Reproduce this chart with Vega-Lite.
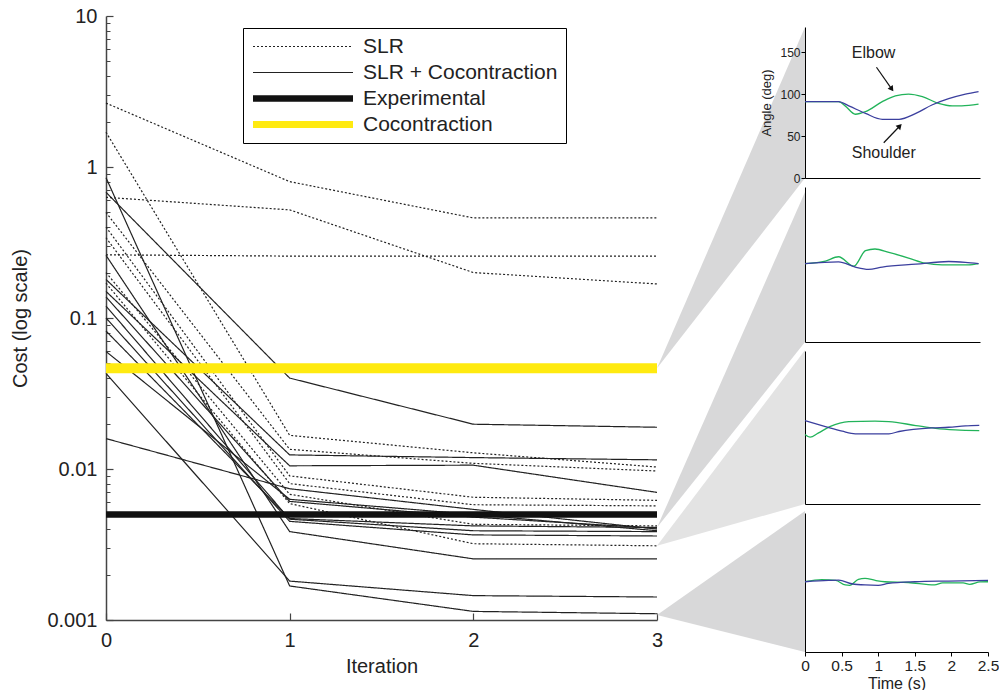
{
  "$schema": "https://vega.github.io/schema/vega-lite/v6.json",
  "background": "white",
  "padding": {"left": 10, "top": 6, "right": 0, "bottom": 0},
  "config": {
    "font": "Liberation Sans",
    "view": {"stroke": null},
    "axis": {"grid": false, "labelColor": "#222", "titleColor": "#222", "titleFontWeight": "normal"}
  },
  "datasets": {
    "wedges": [
      {"w": 1, "iter": 3, "cost": 0.0465, "cost2": 0.0465},
      {"w": 1, "iter": 3.806, "cost": 8.455, "cost2": 0.8457},
      {"w": 2, "iter": 3, "cost": 0.0041, "cost2": 0.0041},
      {"w": 2, "iter": 3.806, "cost": 0.683, "cost2": 0.0693},
      {"w": 3, "iter": 3, "cost": 0.0031, "cost2": 0.0031},
      {"w": 3, "iter": 3.806, "cost": 0.0614, "cost2": 0.00586},
      {"w": 4, "iter": 3, "cost": 0.00108, "cost2": 0.00108},
      {"w": 4, "iter": 3.806, "cost": 0.00527, "cost2": 0.000614}
    ],
    "costs": [
      {"id": "D1", "method": "SLR", "iter": 0, "cost": 2.65},
      {"id": "D1", "method": "SLR", "iter": 1, "cost": 0.80},
      {"id": "D1", "method": "SLR", "iter": 2, "cost": 0.46},
      {"id": "D1", "method": "SLR", "iter": 3, "cost": 0.46},
      {"id": "D2", "method": "SLR", "iter": 0, "cost": 0.63},
      {"id": "D2", "method": "SLR", "iter": 1, "cost": 0.52},
      {"id": "D2", "method": "SLR", "iter": 2, "cost": 0.20},
      {"id": "D2", "method": "SLR", "iter": 3, "cost": 0.168},
      {"id": "D3", "method": "SLR", "iter": 0, "cost": 0.262},
      {"id": "D3", "method": "SLR", "iter": 1, "cost": 0.257},
      {"id": "D3", "method": "SLR", "iter": 2, "cost": 0.257},
      {"id": "D3", "method": "SLR", "iter": 3, "cost": 0.257},
      {"id": "D4", "method": "SLR", "iter": 0, "cost": 1.7},
      {"id": "D4", "method": "SLR", "iter": 1, "cost": 0.0167},
      {"id": "D4", "method": "SLR", "iter": 2, "cost": 0.0128},
      {"id": "D4", "method": "SLR", "iter": 3, "cost": 0.0103},
      {"id": "D5", "method": "SLR", "iter": 0, "cost": 0.50},
      {"id": "D5", "method": "SLR", "iter": 1, "cost": 0.0135},
      {"id": "D5", "method": "SLR", "iter": 2, "cost": 0.0109},
      {"id": "D5", "method": "SLR", "iter": 3, "cost": 0.0097},
      {"id": "D6", "method": "SLR", "iter": 0, "cost": 0.40},
      {"id": "D6", "method": "SLR", "iter": 1, "cost": 0.0090},
      {"id": "D6", "method": "SLR", "iter": 2, "cost": 0.0065},
      {"id": "D6", "method": "SLR", "iter": 3, "cost": 0.0062},
      {"id": "D7", "method": "SLR", "iter": 0, "cost": 0.34},
      {"id": "D7", "method": "SLR", "iter": 1, "cost": 0.0080},
      {"id": "D7", "method": "SLR", "iter": 2, "cost": 0.0058},
      {"id": "D7", "method": "SLR", "iter": 3, "cost": 0.0057},
      {"id": "D8", "method": "SLR", "iter": 0, "cost": 0.20},
      {"id": "D8", "method": "SLR", "iter": 1, "cost": 0.0068},
      {"id": "D8", "method": "SLR", "iter": 2, "cost": 0.0043},
      {"id": "D8", "method": "SLR", "iter": 3, "cost": 0.0042},
      {"id": "D9", "method": "SLR", "iter": 0, "cost": 0.17},
      {"id": "D9", "method": "SLR", "iter": 1, "cost": 0.0059},
      {"id": "D9", "method": "SLR", "iter": 2, "cost": 0.0032},
      {"id": "D9", "method": "SLR", "iter": 3, "cost": 0.0031},
      {"id": "S1", "method": "SLR + Cocontraction", "iter": 0, "cost": 0.68},
      {"id": "S1", "method": "SLR + Cocontraction", "iter": 1, "cost": 0.040},
      {"id": "S1", "method": "SLR + Cocontraction", "iter": 2, "cost": 0.0198},
      {"id": "S1", "method": "SLR + Cocontraction", "iter": 3, "cost": 0.0189},
      {"id": "S2", "method": "SLR + Cocontraction", "iter": 0, "cost": 0.85},
      {"id": "S2", "method": "SLR + Cocontraction", "iter": 1, "cost": 0.00168},
      {"id": "S2", "method": "SLR + Cocontraction", "iter": 2, "cost": 0.00114},
      {"id": "S2", "method": "SLR + Cocontraction", "iter": 3, "cost": 0.00110},
      {"id": "S3", "method": "SLR + Cocontraction", "iter": 0, "cost": 0.26},
      {"id": "S3", "method": "SLR + Cocontraction", "iter": 1, "cost": 0.00385},
      {"id": "S3", "method": "SLR + Cocontraction", "iter": 2, "cost": 0.00254},
      {"id": "S3", "method": "SLR + Cocontraction", "iter": 3, "cost": 0.00254},
      {"id": "S4", "method": "SLR + Cocontraction", "iter": 0, "cost": 0.043},
      {"id": "S4", "method": "SLR + Cocontraction", "iter": 1, "cost": 0.00181},
      {"id": "S4", "method": "SLR + Cocontraction", "iter": 2, "cost": 0.00145},
      {"id": "S4", "method": "SLR + Cocontraction", "iter": 3, "cost": 0.00142},
      {"id": "S5", "method": "SLR + Cocontraction", "iter": 0, "cost": 0.18},
      {"id": "S5", "method": "SLR + Cocontraction", "iter": 1, "cost": 0.0124},
      {"id": "S5", "method": "SLR + Cocontraction", "iter": 2, "cost": 0.0119},
      {"id": "S5", "method": "SLR + Cocontraction", "iter": 3, "cost": 0.0115},
      {"id": "S6", "method": "SLR + Cocontraction", "iter": 0, "cost": 0.15},
      {"id": "S6", "method": "SLR + Cocontraction", "iter": 1, "cost": 0.0105},
      {"id": "S6", "method": "SLR + Cocontraction", "iter": 2, "cost": 0.0106},
      {"id": "S6", "method": "SLR + Cocontraction", "iter": 3, "cost": 0.0070},
      {"id": "S7", "method": "SLR + Cocontraction", "iter": 0, "cost": 0.0159},
      {"id": "S7", "method": "SLR + Cocontraction", "iter": 1, "cost": 0.0074},
      {"id": "S7", "method": "SLR + Cocontraction", "iter": 2, "cost": 0.0054},
      {"id": "S7", "method": "SLR + Cocontraction", "iter": 3, "cost": 0.0040},
      {"id": "S8", "method": "SLR + Cocontraction", "iter": 0, "cost": 0.06},
      {"id": "S8", "method": "SLR + Cocontraction", "iter": 1, "cost": 0.0063},
      {"id": "S8", "method": "SLR + Cocontraction", "iter": 2, "cost": 0.0050},
      {"id": "S8", "method": "SLR + Cocontraction", "iter": 3, "cost": 0.0039},
      {"id": "S9", "method": "SLR + Cocontraction", "iter": 0, "cost": 0.138},
      {"id": "S9", "method": "SLR + Cocontraction", "iter": 1, "cost": 0.0061},
      {"id": "S9", "method": "SLR + Cocontraction", "iter": 2, "cost": 0.0048},
      {"id": "S9", "method": "SLR + Cocontraction", "iter": 3, "cost": 0.00405},
      {"id": "S10", "method": "SLR + Cocontraction", "iter": 0, "cost": 0.12},
      {"id": "S10", "method": "SLR + Cocontraction", "iter": 1, "cost": 0.00465},
      {"id": "S10", "method": "SLR + Cocontraction", "iter": 2, "cost": 0.0039},
      {"id": "S10", "method": "SLR + Cocontraction", "iter": 3, "cost": 0.00385},
      {"id": "S11", "method": "SLR + Cocontraction", "iter": 0, "cost": 0.10},
      {"id": "S11", "method": "SLR + Cocontraction", "iter": 1, "cost": 0.0045},
      {"id": "S11", "method": "SLR + Cocontraction", "iter": 2, "cost": 0.00366},
      {"id": "S11", "method": "SLR + Cocontraction", "iter": 3, "cost": 0.0036},
      {"id": "S12", "method": "SLR + Cocontraction", "iter": 0, "cost": 0.082},
      {"id": "S12", "method": "SLR + Cocontraction", "iter": 1, "cost": 0.0047},
      {"id": "S12", "method": "SLR + Cocontraction", "iter": 2, "cost": 0.0042},
      {"id": "S12", "method": "SLR + Cocontraction", "iter": 3, "cost": 0.0041},
      {"id": "C", "method": "Cocontraction", "iter": 0, "cost": 0.0465},
      {"id": "C", "method": "Cocontraction", "iter": 3, "cost": 0.0465},
      {"id": "E", "method": "Experimental", "iter": 0, "cost": 0.005},
      {"id": "E", "method": "Experimental", "iter": 3, "cost": 0.005}
    ],
    "p1": [
      {"joint": "Elbow", "t": 0, "angle": 91}, {"joint": "Elbow", "t": 0.46, "angle": 91},
      {"joint": "Elbow", "t": 0.55, "angle": 86}, {"joint": "Elbow", "t": 0.69, "angle": 76},
      {"joint": "Elbow", "t": 0.83, "angle": 79}, {"joint": "Elbow", "t": 1.06, "angle": 91},
      {"joint": "Elbow", "t": 1.24, "angle": 98}, {"joint": "Elbow", "t": 1.42, "angle": 100},
      {"joint": "Elbow", "t": 1.61, "angle": 97}, {"joint": "Elbow", "t": 1.83, "angle": 89},
      {"joint": "Elbow", "t": 2.02, "angle": 86}, {"joint": "Elbow", "t": 2.15, "angle": 86},
      {"joint": "Elbow", "t": 2.38, "angle": 88},
      {"joint": "Shoulder", "t": 0, "angle": 91}, {"joint": "Shoulder", "t": 0.46, "angle": 91},
      {"joint": "Shoulder", "t": 0.60, "angle": 86}, {"joint": "Shoulder", "t": 0.83, "angle": 77},
      {"joint": "Shoulder", "t": 1.06, "angle": 70}, {"joint": "Shoulder", "t": 1.29, "angle": 70},
      {"joint": "Shoulder", "t": 1.52, "angle": 77}, {"joint": "Shoulder", "t": 1.74, "angle": 87},
      {"joint": "Shoulder", "t": 1.97, "angle": 94.5}, {"joint": "Shoulder", "t": 2.20, "angle": 100},
      {"joint": "Shoulder", "t": 2.38, "angle": 103}
    ],
    "p2": [
      {"joint": "Elbow", "t": 0, "angle": 91}, {"joint": "Elbow", "t": 0.28, "angle": 94},
      {"joint": "Elbow", "t": 0.46, "angle": 99}, {"joint": "Elbow", "t": 0.67, "angle": 88},
      {"joint": "Elbow", "t": 0.83, "angle": 106}, {"joint": "Elbow", "t": 0.96, "angle": 108},
      {"joint": "Elbow", "t": 1.15, "angle": 104}, {"joint": "Elbow", "t": 1.42, "angle": 97.5},
      {"joint": "Elbow", "t": 1.65, "angle": 91.5}, {"joint": "Elbow", "t": 1.88, "angle": 89.6},
      {"joint": "Elbow", "t": 2.24, "angle": 89.6}, {"joint": "Elbow", "t": 2.38, "angle": 91},
      {"joint": "Shoulder", "t": 0, "angle": 91}, {"joint": "Shoulder", "t": 0.46, "angle": 93},
      {"joint": "Shoulder", "t": 0.69, "angle": 87}, {"joint": "Shoulder", "t": 0.87, "angle": 84.4},
      {"joint": "Shoulder", "t": 1.06, "angle": 87}, {"joint": "Shoulder", "t": 1.52, "angle": 90.4},
      {"joint": "Shoulder", "t": 1.97, "angle": 93.5}, {"joint": "Shoulder", "t": 2.2, "angle": 92.5},
      {"joint": "Shoulder", "t": 2.38, "angle": 91}
    ],
    "p3": [
      {"joint": "Elbow", "t": 0, "angle": 81.8}, {"joint": "Elbow", "t": 0.07, "angle": 78.6},
      {"joint": "Elbow", "t": 0.18, "angle": 83.3}, {"joint": "Elbow", "t": 0.34, "angle": 91},
      {"joint": "Elbow", "t": 0.60, "angle": 97}, {"joint": "Elbow", "t": 0.96, "angle": 97.6},
      {"joint": "Elbow", "t": 1.15, "angle": 97}, {"joint": "Elbow", "t": 1.52, "angle": 92.3},
      {"joint": "Elbow", "t": 1.79, "angle": 89}, {"joint": "Elbow", "t": 2.06, "angle": 87.2},
      {"joint": "Elbow", "t": 2.39, "angle": 86.4},
      {"joint": "Shoulder", "t": 0, "angle": 98}, {"joint": "Shoulder", "t": 0.28, "angle": 91},
      {"joint": "Shoulder", "t": 0.51, "angle": 85.6}, {"joint": "Shoulder", "t": 0.69, "angle": 82.6},
      {"joint": "Shoulder", "t": 1.15, "angle": 82.6}, {"joint": "Shoulder", "t": 1.29, "angle": 85.3},
      {"joint": "Shoulder", "t": 1.74, "angle": 89.6}, {"joint": "Shoulder", "t": 1.97, "angle": 90.3},
      {"joint": "Shoulder", "t": 2.20, "angle": 92}, {"joint": "Shoulder", "t": 2.39, "angle": 92.6}
    ],
    "p4": [
      {"joint": "Elbow", "t": 0, "angle": 91}, {"joint": "Elbow", "t": 0.23, "angle": 93.6},
      {"joint": "Elbow", "t": 0.42, "angle": 92.7}, {"joint": "Elbow", "t": 0.55, "angle": 86.8},
      {"joint": "Elbow", "t": 0.61, "angle": 86.4}, {"joint": "Elbow", "t": 0.73, "angle": 94.1},
      {"joint": "Elbow", "t": 0.82, "angle": 95.4}, {"joint": "Elbow", "t": 0.96, "angle": 92.7},
      {"joint": "Elbow", "t": 1.09, "angle": 91}, {"joint": "Elbow", "t": 1.41, "angle": 90},
      {"joint": "Elbow", "t": 1.77, "angle": 86.8}, {"joint": "Elbow", "t": 1.88, "angle": 89.4},
      {"joint": "Elbow", "t": 2.16, "angle": 89.4}, {"joint": "Elbow", "t": 2.25, "angle": 87.7},
      {"joint": "Elbow", "t": 2.39, "angle": 90.7}, {"joint": "Elbow", "t": 2.5, "angle": 91},
      {"joint": "Shoulder", "t": 0, "angle": 91}, {"joint": "Shoulder", "t": 0.32, "angle": 92.7},
      {"joint": "Shoulder", "t": 0.46, "angle": 93.1}, {"joint": "Shoulder", "t": 0.64, "angle": 88.4},
      {"joint": "Shoulder", "t": 0.82, "angle": 86.8}, {"joint": "Shoulder", "t": 1.0, "angle": 86.4},
      {"joint": "Shoulder", "t": 1.14, "angle": 88.9}, {"joint": "Shoulder", "t": 1.5, "angle": 91},
      {"joint": "Shoulder", "t": 1.96, "angle": 91.9}, {"joint": "Shoulder", "t": 2.5, "angle": 92.7}
    ],
    "labels": [
      {"label": "Elbow", "t": 0.94, "angle": 149},
      {"label": "Shoulder", "t": 1.08, "angle": 30}
    ],
    "arrows": [
      {"label": "Elbow", "t": 0.98, "angle": 132, "t2": 1.19, "angle2": 106},
      {"label": "Shoulder", "t": 1.08, "angle": 42, "t2": 1.30, "angle2": 62}
    ]
  },
  "spacing": 148,
  "bounds": "flush",
  "resolve": {"scale": {"color": "independent", "strokeDash": "independent"}, "legend": {"color": "independent", "strokeDash": "independent"}},
  "hconcat": [
    {
      "width": 551,
      "height": 604,
      "encoding": {
        "x": {
          "field": "iter", "type": "quantitative",
          "scale": {"domain": [0, 3], "nice": false},
          "axis": {"values": [0, 1, 2, 3], "title": "Iteration", "tickSize": -7, "labelPadding": 17,
                   "labelFontSize": 20, "titleFontSize": 20, "titlePadding": 6, "labelFlush": false,
                   "domainColor": "#444", "tickColor": "#444", "domainWidth": 1.5, "tickWidth": 1.2}
        }
      },
      "layer": [
        {
          "data": {"name": "wedges"},
          "mark": {"type": "area", "clip": false},
          "encoding": {
            "y": {
              "field": "cost", "type": "quantitative",
              "scale": {"type": "log", "domain": [0.001, 10], "nice": false},
              "axis": {"orient": "left", "values": [0.002, 0.003, 0.004, 0.005, 0.006, 0.007, 0.008, 0.009, 0.02, 0.03, 0.04, 0.05, 0.06, 0.07, 0.08, 0.09, 0.2, 0.3, 0.4, 0.5, 0.6, 0.7, 0.8, 0.9, 2, 3, 4, 5, 6, 7, 8, 9],
                       "labels": false, "domain": false, "title": null, "tickSize": -4, "tickColor": "#444"}
            },
            "y2": {"field": "cost2"},
            "detail": {"field": "w", "type": "nominal"},
            "fill": {"condition": {"test": "datum.w == 3", "value": "#e3e3e3"}, "value": "#d8d8d9"}
          }
        },
        {
          "data": {"name": "costs"},
          "mark": {"type": "line", "strokeCap": "butt"},
          "encoding": {
            "y": {
              "field": "cost", "type": "quantitative",
              "scale": {"type": "log", "domain": [0.001, 10], "nice": false},
              "axis": {"orient": "left", "values": [0.001, 0.01, 0.1, 1, 10], "format": "~g", "title": "Cost (log scale)",
                       "tickSize": -7, "labelPadding": 16, "titlePadding": 16, "labelFontSize": 20, "titleFontSize": 20,
                       "domainColor": "#444", "tickColor": "#444", "domainWidth": 1.5, "tickWidth": 1.2, "labelFlush": false}
            },
            "detail": {"field": "id", "type": "nominal"},
            "color": {
              "field": "method", "type": "nominal",
              "scale": {"domain": ["SLR", "SLR + Cocontraction", "Experimental", "Cocontraction"], "range": ["#222222", "#222222", "#111111", "#ffea10"]},
              "legend": {"title": null, "orient": "none", "legendX": 137, "legendY": 12, "labelFontSize": 21, "labelColor": "#222",
                         "symbolType": "M-4.25,0H45.75", "symbolSize": 16, "labelOffset": 91, "strokeColor": "black", "padding": 8,
                         "rowPadding": 4, "labelLimit": 400, "fillColor": "white",
                         "encode": {"symbols": {"update": {"strokeWidth": {"signal": "datum.value == 'Experimental' ? 6.5 : datum.value == 'Cocontraction' ? 7 : 1.2"}, "strokeJoin": {"value": "bevel"}, "fill": {"value": "transparent"}}}}}
            },
            "strokeDash": {
              "field": "method", "type": "nominal",
              "scale": {"domain": ["SLR", "SLR + Cocontraction", "Experimental", "Cocontraction"], "range": [[2, 2], [1, 0], [1, 0], [1, 0]]},
              "legend": {"title": null, "orient": "none", "legendX": 137, "legendY": 12, "labelFontSize": 21, "labelColor": "#222",
                         "symbolType": "M-4.25,0H45.75", "symbolSize": 16, "labelOffset": 91, "strokeColor": "black", "padding": 8,
                         "rowPadding": 4, "labelLimit": 400, "fillColor": "white",
                         "encode": {"symbols": {"update": {"strokeWidth": {"signal": "datum.value == 'Experimental' ? 6.5 : datum.value == 'Cocontraction' ? 7 : 1.2"}, "strokeJoin": {"value": "bevel"}, "fill": {"value": "transparent"}}}}}
            },
            "strokeWidth": {
              "condition": [
                {"test": "datum.method == 'Experimental'", "value": 6.5},
                {"test": "datum.method == 'Cocontraction'", "value": 10}
              ],
              "value": 1.2
            }
          }
        }
      ],
      "resolve": {"axis": {"y": "independent"}}
    },
    {
      "spacing": 9,
      "bounds": "flush",
      "vconcat": [
        {
          "width": 175, "height": 2,
          "data": {"values": [{}]},
          "mark": {"type": "text", "text": ""}
        },
        {
          "width": 175, "height": 151,
          "layer": [
            {
              "data": {"name": "p1"},
              "mark": {"type": "line", "strokeWidth": 1.3, "interpolate": "monotone"},
              "encoding": {
                "x": {"field": "t", "type": "quantitative", "scale": {"domain": [0, 2.4], "nice": false},
                      "axis": {"title": null, "labels": false, "ticks": false, "domainColor": "#000"}},
                "y": {"field": "angle", "type": "quantitative", "scale": {"domain": [0, 180], "nice": false},
                      "axis": {"values": [0, 50, 100, 150], "title": "Angle (deg)", "titleFontSize": 13, "labelFontSize": 12,
                               "tickSize": 4, "tickColor": "#000", "labelPadding": 1, "titlePadding": 6, "domainColor": "#000", "labelFlush": false}},
                "color": {"field": "joint", "type": "nominal", "scale": {"domain": ["Shoulder", "Elbow"], "range": ["#3b3f9e", "#22b35a"]}, "legend": null}
              }
            },
            {
              "data": {"name": "labels"},
              "mark": {"type": "text", "fontSize": 16, "color": "#222"},
              "encoding": {
                "x": {"field": "t", "type": "quantitative"},
                "y": {"field": "angle", "type": "quantitative"},
                "text": {"field": "label"}
              }
            },
            {
              "data": {"name": "arrows"},
              "mark": {"type": "rule", "color": "#111", "strokeWidth": 1.2},
              "encoding": {
                "x": {"field": "t", "type": "quantitative"},
                "y": {"field": "angle", "type": "quantitative"},
                "x2": {"field": "t2"},
                "y2": {"field": "angle2"}
              }
            },
            {
              "data": {"name": "arrows"},
              "transform": [{"filter": "datum.label == 'Elbow'"}],
              "mark": {"type": "point", "shape": "triangle-up", "filled": true, "color": "#111", "opacity": 1, "size": 40, "angle": 145},
              "encoding": {
                "x": {"field": "t2", "type": "quantitative"},
                "y": {"field": "angle2", "type": "quantitative"}
              }
            },
            {
              "data": {"name": "arrows"},
              "transform": [{"filter": "datum.label == 'Shoulder'"}],
              "mark": {"type": "point", "shape": "triangle-up", "filled": true, "color": "#111", "opacity": 1, "size": 40, "angle": 43},
              "encoding": {
                "x": {"field": "t2", "type": "quantitative"},
                "y": {"field": "angle2", "type": "quantitative"}
              }
            }
          ]
        },
        {
          "width": 175, "height": 155,
          "data": {"name": "p2"},
          "mark": {"type": "line", "strokeWidth": 1.3, "interpolate": "monotone"},
          "encoding": {
            "x": {"field": "t", "type": "quantitative", "scale": {"domain": [0, 2.4], "nice": false},
                  "axis": {"title": null, "labels": false, "ticks": false, "domainColor": "#000"}},
            "y": {"field": "angle", "type": "quantitative", "scale": {"domain": [0, 180], "nice": false},
                  "axis": {"title": null, "labels": false, "ticks": false, "domainColor": "#000"}},
            "color": {"field": "joint", "type": "nominal", "scale": {"domain": ["Shoulder", "Elbow"], "range": ["#3b3f9e", "#22b35a"]}, "legend": null}
          }
        },
        {
          "width": 175, "height": 153,
          "data": {"name": "p3"},
          "mark": {"type": "line", "strokeWidth": 1.3, "interpolate": "monotone"},
          "encoding": {
            "x": {"field": "t", "type": "quantitative", "scale": {"domain": [0, 2.4], "nice": false},
                  "axis": {"title": null, "labels": false, "ticks": false, "domainColor": "#000"}},
            "y": {"field": "angle", "type": "quantitative", "scale": {"domain": [0, 180], "nice": false},
                  "axis": {"title": null, "labels": false, "ticks": false, "domainColor": "#000"}},
            "color": {"field": "joint", "type": "nominal", "scale": {"domain": ["Shoulder", "Elbow"], "range": ["#3b3f9e", "#22b35a"]}, "legend": null}
          }
        },
        {
          "width": 183, "height": 139,
          "data": {"name": "p4"},
          "mark": {"type": "line", "strokeWidth": 1.3, "interpolate": "monotone"},
          "encoding": {
            "x": {"field": "t", "type": "quantitative", "scale": {"domain": [0, 2.5], "nice": false},
                  "axis": {"values": [0, 0.5, 1, 1.5, 2, 2.5], "format": "~g", "title": "Time (s)", "titleFontSize": 16, "labelFontSize": 15.5,
                           "tickSize": 4, "tickColor": "#000", "labelPadding": 2, "titlePadding": 2, "domainColor": "#000", "labelFlush": false}},
            "y": {"field": "angle", "type": "quantitative", "scale": {"domain": [0, 180], "nice": false},
                  "axis": {"title": null, "labels": false, "ticks": false, "domainColor": "#000"}},
            "color": {"field": "joint", "type": "nominal", "scale": {"domain": ["Shoulder", "Elbow"], "range": ["#3b3f9e", "#22b35a"]}, "legend": null}
          }
        }
      ]
    }
  ]
}
